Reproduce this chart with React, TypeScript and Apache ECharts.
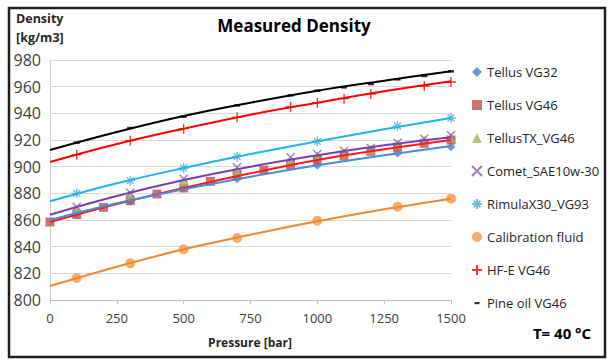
import React, { useEffect, useRef } from "react";
import * as echarts from "echarts";

// ---- Data ----
const pressureTicks = [0, 250, 500, 750, 1000, 1250, 1500];
const densityMin = 800;
const densityMax = 980;

// marker pressures
const xSparse = [100, 300, 500, 700, 1000, 1300, 1500];
const xSquare = [0, 100, 200, 300, 400, 500, 600, 700, 800, 900, 1000, 1100, 1200, 1300, 1400, 1500];
const xDense = [100, 300, 500, 700, 900, 1000, 1100, 1200, 1300, 1400, 1500];
const xHFE = [100, 300, 500, 700, 900, 1000, 1100, 1200, 1400, 1500];

const tellusVG32 = [864.5, 874, 884, 891, 901, 910, 915];
const tellusVG46 = [858.5, 864, 869.5, 874.5, 879.5, 884, 889, 893.5, 897.5, 901.5, 905, 908, 911.5, 914.5, 917.5, 920];
const tellusTX = [867.5, 878.5, 888.5, 896.5, 904.5, 908, 910.5, 913, 917, 920, 922];
const comet = [870, 880.5, 891, 899.5, 907, 909.5, 912, 914, 918, 921, 923.5];
const rimula = [880, 889.5, 899, 907.5, 919, 930.5, 936.5];
const calibration = [816.5, 827.5, 838, 846.5, 859.5, 870, 876];
const hfe = [909, 919.5, 928.5, 937, 945, 948, 951, 954.5, 960.5, 963.5];
const pineOil = [918, 929, 937.5, 946, 953.5, 957, 959.5, 962, 965.5, 968, 971.5];

// trend lines, read at the pressure ticks
const trendPineOil = [912.5, 926, 938, 948, 957, 964.5, 971.5];
const trendHFE = [903.5, 917, 928.5, 939, 948, 956.5, 964];
const trendRimula = [874, 887.5, 899, 909.5, 919, 928, 936.5];
const trendComet = [864, 878, 890, 900, 908.5, 916, 922];
const trendVG46 = [858.5, 872, 884, 895, 905, 913, 920];
const trendVG32 = [860, 872.5, 883, 892.5, 901, 908.5, 915.5];
const trendCalibration = [810.5, 825, 838, 849, 859, 868, 876];

const seriesNames = [
  "Tellus VG32",
  "Tellus VG46",
  "TellusTX_VG46",
  "Comet_SAE10w-30",
  "RimulaX30_VG93",
  "Calibration fluid",
  "HF-E VG46",
  "Pine oil VG46",
];

const pair = (xs: number[], ys: number[]) => xs.map((x, i) => [x, ys[i]]);

const CROSS = "path://M0,0L10,10M10,0L0,10";
const PLUS = "path://M5,0L5,10M0,5L10,5";
const STAR = "path://M5,0L5,10M0,5L10,5M1.6,1.6L8.4,8.4M8.4,1.6L1.6,8.4";
const FONT = "Open Sans";

export default function App() {
  const ref = useRef<HTMLDivElement>(null);

  useEffect(() => {
    if (!ref.current) return;
    const chart = echarts.init(ref.current, null, { renderer: "svg" });

    const marker = (
      name: string,
      xs: number[],
      ys: number[],
      symbol: string,
      size: number | number[],
      color: string,
      stroke = false
    ) => ({
      name,
      type: "scatter",
      data: pair(xs, ys),
      symbol,
      symbolSize: size,
      z: 2,
      itemStyle: stroke
        ? { color, borderColor: color, borderWidth: 1.4 }
        : { color },
    });

    const trend = (name: string, ys: number[], color: string) => ({
      name,
      type: "line",
      data: pair(pressureTicks, ys),
      smooth: 0.4,
      showSymbol: false,
      z: 3,
      lineStyle: { color, width: 2 },
      itemStyle: { color },
    });

    const option = {
      animation: false,
      backgroundColor: "#ffffff",
      grid: { left: 50, right: 159, top: 60, bottom: 60, containLabel: false },
      xAxis: {
        type: "value",
        min: 0,
        max: 1500,
        interval: 250,
        axisLine: { show: true, lineStyle: { color: "#bfbfbf" } },
        axisTick: { show: true, length: 4, lineStyle: { color: "#bfbfbf" } },
        splitLine: { show: false },
        axisLabel: {
          fontFamily: FONT,
          fontSize: 13,
          color: "#404040",
          margin: 11,
          formatter: (v: number) => String(v),
        },
      },
      yAxis: {
        type: "value",
        min: densityMin,
        max: densityMax,
        interval: 20,
        axisLine: { show: true, lineStyle: { color: "#d0d0d0" } },
        axisTick: { show: false },
        splitLine: { show: true, lineStyle: { color: "#d9d9d9", width: 1 } },
        axisLabel: {
          fontFamily: FONT,
          fontSize: 16,
          color: "#404040",
          margin: 9,
          formatter: (v: number) => String(v),
        },
      },
      legend: {
        orient: "vertical",
        left: 466,
        top: 59,
        itemWidth: 10,
        itemHeight: 10,
        itemGap: 17,
        textStyle: { fontFamily: FONT, fontSize: 13, color: "#262626", lineHeight: 16 },
        data: seriesNames.map((n) =>
          n === "Pine oil VG46"
            ? { name: n, icon: "path://M0,0M10,10M2.5,4L7.5,4L7.5,6.2L2.5,6.2Z" }
            : { name: n }
        ),
      },
      graphic: [
        {
          type: "rect",
          shape: { x: 9, y: 8, width: 596, height: 349 },
          style: { fill: "none", stroke: "#1e1e1e", lineWidth: 2.5 },
          z: 100,
        },
        {
          type: "text",
          x: 294,
          y: 25,
          style: {
            text: "Measured Density",
            fontFamily: FONT,
            fontWeight: "bold",
            fontSize: 17,
            fill: "#000",
            textAlign: "center",
            textVerticalAlign: "middle",
          },
        },
        {
          type: "text",
          x: 16,
          y: 28,
          style: {
            text: "Density\n[kg/m3]",
            fontFamily: FONT,
            fontWeight: "bold",
            fontSize: 12.5,
            lineHeight: 19,
            fill: "#262626",
            textAlign: "left",
            textVerticalAlign: "middle",
          },
        },
        {
          type: "text",
          x: 250,
          y: 342,
          style: {
            text: "Pressure [bar]",
            fontFamily: FONT,
            fontWeight: "bold",
            fontSize: 12,
            fill: "#262626",
            textAlign: "center",
            textVerticalAlign: "middle",
          },
        },
        {
          type: "text",
          x: 562,
          y: 333,
          style: {
            text: "T= 40 °C",
            fontFamily: FONT,
            fontWeight: "bold",
            fontSize: 15,
            fill: "#000",
            textAlign: "center",
            textVerticalAlign: "middle",
          },
        },
      ],
      series: [
        marker(seriesNames[0], xSparse, tellusVG32, "diamond", 9, "#4f81bd"),
        marker(seriesNames[1], xSquare, tellusVG46, "rect", 9, "#c0504d"),
        marker(seriesNames[2], xDense, tellusTX, "triangle", 9, "#9bbb59"),
        marker(seriesNames[3], xDense, comet, CROSS, 8, "#8064a2", true),
        marker(seriesNames[4], xSparse, rimula, STAR, 10, "#4bacc6", true),
        marker(seriesNames[5], xSparse, calibration, "circle", 10, "#f79646"),
        marker(seriesNames[6], xHFE, hfe, PLUS, 10, "#ff0000", true),
        marker(seriesNames[7], xDense, pineOil, "rect", [6, 2.5], "#000000"),
        trend("trend Pine oil", trendPineOil, "#000000"),
        trend("trend HF-E", trendHFE, "#ff0000"),
        trend("trend Rimula", trendRimula, "#1fb4ea"),
        trend("trend Comet", trendComet, "#7a3fb0"),
        trend("trend VG46", trendVG46, "#ff1a1a"),
        trend("trend VG32", trendVG32, "#3f8fdc"),
        trend("trend Calibration", trendCalibration, "#f4862b"),
      ],
    };

    chart.setOption(option as any);
    return () => chart.dispose();
  }, []);

  return (
    <div
      ref={ref}
      style={{ position: "fixed", left: 0, top: 0, width: 610, height: 360, background: "#fff" }}
    />
  );
}
